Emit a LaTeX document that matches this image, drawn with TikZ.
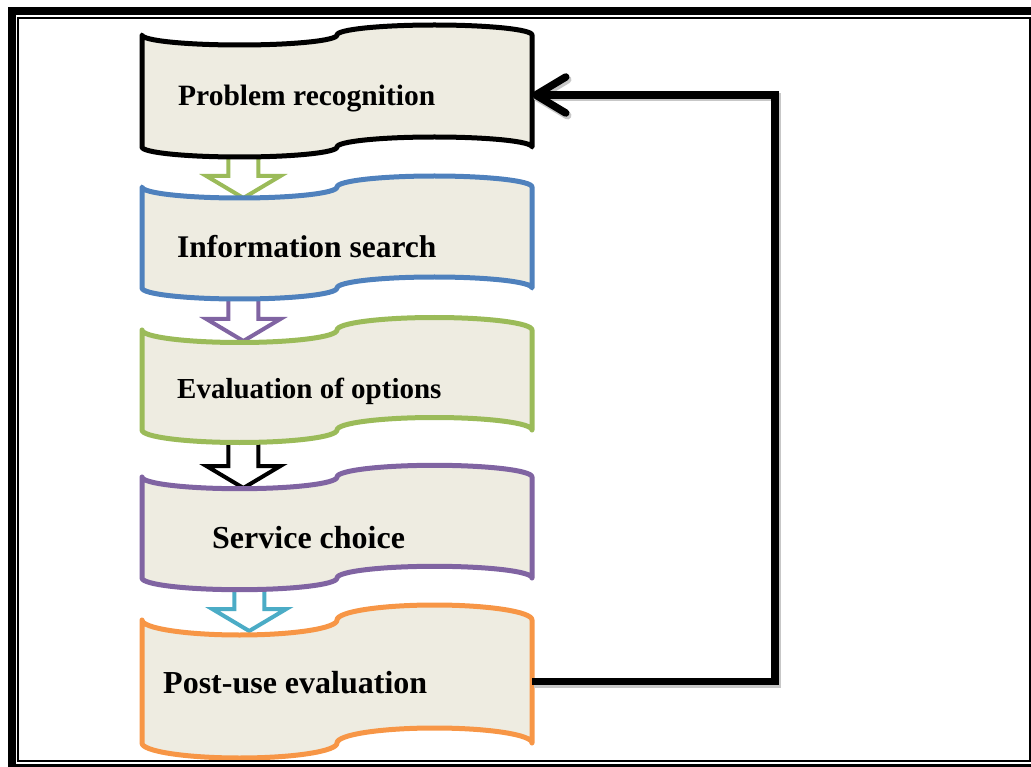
\documentclass[tikz,border=0pt]{standalone}
\usepackage{fontspec}
\setmainfont{Liberation Serif}
\usetikzlibrary{positioning,arrows.meta,calc,backgrounds}

\definecolor{tapefill}{HTML}{EEECE1}
\definecolor{tapeblue}{HTML}{4F81BD}
\definecolor{tapegreen}{HTML}{9BBB59}
\definecolor{tapepurple}{HTML}{8064A2}
\definecolor{tapeorange}{HTML}{F79646}
\definecolor{tapecyan}{HTML}{4BACC6}

% punched-tape outline round a stage node: node, colour, wave depth
\newcommand{\tapeshape}[3]{%
  \draw[tape,draw=#2] (#1.north west)
    arc[start angle=180,end angle=0,x radius=97.5,y radius=#3]
    arc[start angle=180,end angle=360,x radius=97.5,y radius=#3]
    -- (#1.south east)
    arc[start angle=360,end angle=180,x radius=97.5,y radius=#3]
    arc[start angle=0,end angle=180,x radius=97.5,y radius=#3]
    -- cycle;}

% hollow block arrow from one stage down to the next
\newcommand{\hollowarrow}[4][0.26]{%
  \draw[hollow,draw=#2] let \p1=($(#3.south west)!#1!(#3.south east)$),
    \p2=($(#4.north west)!#1!(#4.north east)$) in
    (\x1-15pt,\y1) -- (\x1-15pt,\y2+11pt) -- (\x1-37pt,\y2+11pt) -- (\x1,\y2-11pt)
    -- (\x1+37pt,\y2+11pt) -- (\x1+15pt,\y2+11pt) -- (\x1+15pt,\y1) -- cycle;}

\begin{document}
\begin{tikzpicture}[x=1pt,y=-1pt,node distance=42pt,
  stage/.style={minimum width=390pt,inner sep=0pt,outer sep=0pt},
  stagetext/.style={anchor=base west,inner sep=0pt,font=\bfseries\fontsize{#1}{#1}\selectfont},
  tape/.style={fill=tapefill,line width=5pt,line join=round},
  hollow/.style={fill=white,line width=4pt,line join=miter},
  feedback/.style={line width=7.5pt,-{Straight Barb[length=30pt,width=36pt,round]},
    preaction={draw=black!22,line width=8pt,transform canvas={shift={(1.5pt,-2.5pt)}}}}]
\useasboundingbox (0,0) rectangle (1031,767);
\clip (0,0) rectangle (1031,767);

% page frame
\draw[line width=8pt] (11.5,11) rectangle (1040,768);
\draw[line width=2pt] (17.8,17.8) rectangle (1029.5,761);

% stages
\node[stage,minimum height=112pt,anchor=north west] (prob) at (142,35) {};
\node[stage,minimum height=101pt,below=40pt of prob] (info) {};
\node[stage,minimum height=100pt,below=of info] (eval) {};
\node[stage,minimum height=101pt,below=47pt of eval] (serv) {};
\node[stage,minimum height=123pt,below=of serv] (post) {};

\begin{pgfonlayer}{background}
\hollowarrow{tapegreen}{prob}{info}
\hollowarrow{tapepurple}{info}{eval}
\hollowarrow{black}{eval}{serv}
\hollowarrow[0.275]{tapecyan}{serv}{post}
\tapeshape{prob}{black}{10}
\tapeshape{info}{tapeblue}{11}
\tapeshape{eval}{tapegreen}{12.5}
\tapeshape{serv}{tapepurple}{11.7}
\tapeshape{post}{tapeorange}{15}
\end{pgfonlayer}

\node[stagetext=29.5] (probtext) at (178,106) {Problem recognition};
\node[stagetext=31.5] (infotext) at (177,257.5) {Information search};
\node[stagetext=29] (evaltext) at (177,398.5) {Evaluation of options};
\node[stagetext=32] (servtext) at (212,548.5) {Service choice};
\node[stagetext=32] (posttext) at (163,693.5) {Post-use evaluation};

% back to the start
\coordinate (loop) at (775,0);
\draw[feedback] (post.east) -- (post.east -| loop) |- ([yshift=-4pt]prob.east);
\end{tikzpicture}
\end{document}
